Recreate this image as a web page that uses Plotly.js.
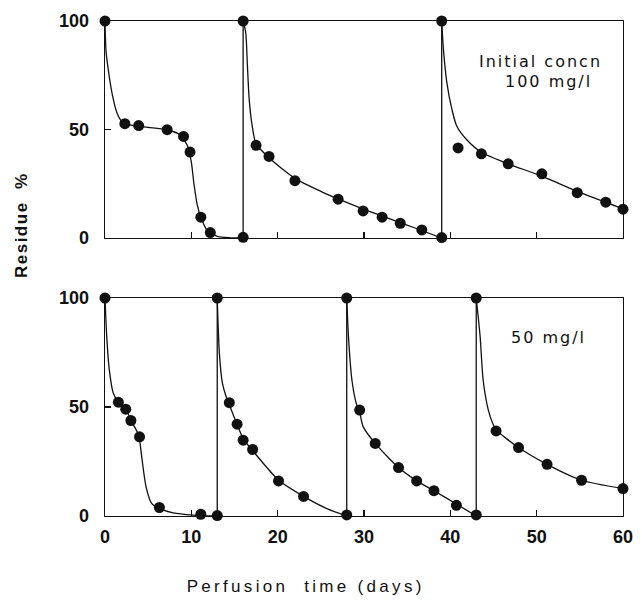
<!DOCTYPE html>
<html>
<head>
<meta charset="utf-8">
<script src="https://cdn.plot.ly/plotly-3.0.1.min.js"></script>
<style>
  html, body { margin: 0; padding: 0; background: #fff; }
  #chart { width: 642px; height: 602px; }
  g.annotation[data-index="0"] text, g.annotation[data-index="1"] text, g.annotation[data-index="2"] text { letter-spacing: 2px; }
  g.annotation[data-index="3"] text { letter-spacing: 3.3px; }
  g.annotation[data-index="4"] text { letter-spacing: 1.5px; }
</style>
</head>
<body>
<div id="chart"></div>
<script>
// ---- Top panel (initial concn 100 mg/l): measured points ----
const topDays = [0, 2.3, 3.9, 7.2, 9.1, 9.85, 11.1, 12.2, 16, 16, 17.5, 19.0, 22.0, 27.0, 29.9, 32.1, 34.2, 36.7, 39, 39, 40.9, 43.6, 46.7, 50.6, 54.7, 58.0, 60];
const topResidue = [100, 52.7, 51.8, 49.9, 46.8, 39.6, 9.6, 2.5, 0.3, 100, 42.7, 37.6, 26.4, 17.9, 12.5, 9.6, 6.8, 3.7, 0.2, 100, 41.5, 38.8, 34.2, 29.6, 20.9, 16.5, 13.3];
// re-dosing days (vertical lines back to 100 %)
const topResetDays = [16, 39];

// Top panel fitted curves
const topCurve1Days = [0, 0.12, 0.4, 0.8, 1.4, 2.0, 3.0, 5.0, 7.0, 8.5, 9.5, 10.0, 10.3, 10.7, 11.1, 11.8, 13.0, 14.5, 16];
const topCurve1Vals = [100, 86, 77, 67, 57.5, 53.5, 52, 51, 50, 48, 43, 35, 25, 15, 9.6, 3.7, 0.8, 0.1, 0];
const topCurve2Days = [16, 16.3, 16.5, 16.7, 17.0, 17.5, 19.0, 22.0, 25.0, 27.0, 30.0, 33.0, 36.0, 39];
const topCurve2Vals = [100, 94.6, 79, 64, 53, 43.5, 37, 27.5, 21.5, 18, 13.2, 8.8, 4.5, 0];
const topCurve3Days = [39, 39.2, 39.6, 40.2, 40.75, 41.9, 43.6, 46.7, 50.6, 54.7, 58.0, 60];
const topCurve3Vals = [100, 87, 71.5, 59, 51.5, 45.3, 39.5, 34.2, 28.5, 21.5, 16.5, 13.3];

// ---- Bottom panel (50 mg/l): measured points ----
const bottomDays = [0, 1.55, 2.4, 3.0, 4.0, 6.3, 11.1, 13, 13, 14.4, 15.3, 16.0, 17.1, 20.1, 23.0, 28, 28, 29.5, 31.3, 34.0, 36.1, 38.1, 40.7, 43, 43, 45.3, 47.9, 51.2, 55.2, 60];
const bottomResidue = [100, 52.2, 49.0, 43.8, 36.3, 3.9, 0.8, 0.2, 100, 52, 42.1, 34.8, 30.5, 16.1, 9.0, 0.5, 100, 48.6, 33.3, 22.2, 16.1, 11.6, 4.9, 0.5, 100, 39.0, 31.4, 23.7, 16.4, 12.6];
const bottomResetDays = [13, 28, 43];

// Bottom panel fitted curves
const botCurve1Days = [0, 0.2, 0.5, 0.96, 1.55, 2.4, 3.0, 3.9, 4.25, 4.75, 5.4, 6.3, 7.9, 10.2, 13];
const botCurve1Vals = [100, 82.4, 67, 56.3, 52.2, 49, 44, 37, 27.2, 13.5, 5.8, 3.5, 1.4, 0.4, 0];
const botCurve2Days = [13, 13.25, 13.6, 14.1, 14.4, 15.3, 16.0, 17.1, 20.1, 23.0, 25.7, 28];
const botCurve2Vals = [100, 74.6, 61, 54, 51, 42, 35.5, 30, 16.5, 9, 3.4, 0];
const botCurve3Days = [28, 28.2, 28.6, 29.1, 29.5, 29.9, 31.3, 34.0, 36.1, 38.1, 40.7, 43];
const botCurve3Vals = [100, 82.4, 62.4, 51.7, 47.5, 41, 33.3, 22.2, 16.1, 11.6, 5.5, 0];
const botCurve4Days = [43, 43.45, 43.8, 44.4, 45.0, 45.3, 47.9, 51.2, 55.2, 60];
const botCurve4Vals = [100, 82.4, 62.4, 48.6, 41.6, 39.5, 31.4, 23.7, 16.4, 12.6];

const xTickVals = [0, 10, 20, 30, 40, 50, 60];
const yTickVals = [0, 50, 100];

const INK = '#111111';
const traces = [];
function curve(xs, ys, xa, ya) {
  traces.push({x: xs, y: ys, xaxis: xa, yaxis: ya, mode: 'lines', type: 'scatter',
    line: {color: INK, width: 1.3, shape: 'spline', smoothing: 0.7}, hoverinfo: 'skip', showlegend: false, cliponaxis: false});
}
function resets(days, xa, ya) {
  days.forEach(d => traces.push({x: [d, d], y: [0, 100], xaxis: xa, yaxis: ya, mode: 'lines', type: 'scatter',
    line: {color: INK, width: 1.3}, hoverinfo: 'skip', showlegend: false, cliponaxis: false}));
}
curve(topCurve1Days, topCurve1Vals, 'x', 'y');
curve(topCurve2Days, topCurve2Vals, 'x', 'y');
curve(topCurve3Days, topCurve3Vals, 'x', 'y');
resets(topResetDays, 'x', 'y');
curve(botCurve1Days, botCurve1Vals, 'x2', 'y2');
curve(botCurve2Days, botCurve2Vals, 'x2', 'y2');
curve(botCurve3Days, botCurve3Vals, 'x2', 'y2');
curve(botCurve4Days, botCurve4Vals, 'x2', 'y2');
resets(bottomResetDays, 'x2', 'y2');
traces.push({x: topDays, y: topResidue, xaxis: 'x', yaxis: 'y', mode: 'markers', type: 'scatter',
  marker: {color: INK, size: 11}, showlegend: false, cliponaxis: false});
traces.push({x: bottomDays, y: bottomResidue, xaxis: 'x2', yaxis: 'y2', mode: 'markers', type: 'scatter',
  marker: {color: INK, size: 11}, showlegend: false, cliponaxis: false});

const tickFont = {family: 'Liberation Sans, Arial, sans-serif', size: 18, color: INK, weight: 'bold'};
const xBase = {range: [0, 60], tickvals: xTickVals, ticks: 'inside', ticklen: 6, tickwidth: 1.2, tickcolor: INK,
  showline: true, linecolor: INK, linewidth: 1.3, mirror: true, showgrid: false, zeroline: false, fixedrange: true};
const yBase = {range: [0, 100], tickvals: yTickVals, ticks: 'inside', ticklen: 6, tickwidth: 1.2, tickcolor: INK,
  showline: true, linecolor: INK, linewidth: 1.3, mirror: true, showgrid: false, zeroline: false, fixedrange: true,
  tickfont: tickFont, ticklabelstandoff: 11};

const layout = {
  width: 642, height: 602,
  margin: {l: 105, r: 19, t: 21, b: 86},
  paper_bgcolor: '#ffffff', plot_bgcolor: '#ffffff',
  showlegend: false,
  xaxis: Object.assign({}, xBase, {anchor: 'y', showticklabels: false}),
  yaxis: Object.assign({}, yBase, {anchor: 'x', domain: [0.5616, 1]}),
  xaxis2: Object.assign({}, xBase, {anchor: 'y2', showticklabels: true, tickfont: tickFont, ticklabelstandoff: 4}),
  yaxis2: Object.assign({}, yBase, {anchor: 'x2', domain: [0, 0.4404]}),
  annotations: [
    {text: 'Initial concn', x: 50.5, y: 81.4, xref: 'x', yref: 'y', showarrow: false, xanchor: 'center', yanchor: 'middle',
      font: {family: 'DejaVu Sans, sans-serif', size: 16, color: INK}},
    {text: '100 mg/l', x: 51.4, y: 72.1, xref: 'x', yref: 'y', showarrow: false, xanchor: 'center', yanchor: 'middle',
      font: {family: 'DejaVu Sans, sans-serif', size: 16, color: INK}},
    {text: '50 mg/l', x: 51.4, y: 82.1, xref: 'x2', yref: 'y2', showarrow: false, xanchor: 'center', yanchor: 'middle',
      font: {family: 'DejaVu Sans, sans-serif', size: 16, color: INK}},
    {text: 'Perfusion  time (days)', x: 0.388, y: -0.143, xref: 'paper', yref: 'paper', showarrow: false,
      xanchor: 'center', yanchor: 'middle', font: {family: 'Liberation Sans, Arial, sans-serif', size: 17, color: INK}},
    {text: 'Residue  %', x: -0.161, y: 0.588, xref: 'paper', yref: 'paper', showarrow: false, textangle: -90,
      xanchor: 'center', yanchor: 'middle', font: {family: 'Liberation Sans, Arial, sans-serif', size: 17, color: INK, weight: 'bold'}}
  ]
};

Plotly.newPlot('chart', traces, layout, {staticPlot: true, displayModeBar: false});
</script>
</body>
</html>
